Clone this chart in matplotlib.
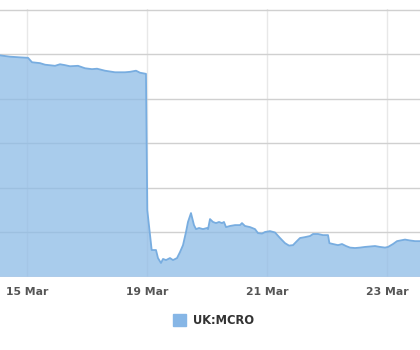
import matplotlib
matplotlib.use('Agg')
import matplotlib.pyplot as plt
from matplotlib.patches import Rectangle

# trading days shown on the axis (weekend skipped)
days = ['15 Mar', '16 Mar', '19 Mar', '20 Mar', '21 Mar', '22 Mar', '23 Mar']
tick_idx = [0, 2, 4, 6]

# time in trading days since 15 Mar open, price in pence
t = [-0.45, -0.283, -0.117, 0.017, 0.083, 0.217, 0.3, 0.467, 0.55, 0.633,
     0.717, 0.85, 0.967, 1.083, 1.167, 1.3, 1.467, 1.633, 1.717, 1.817,
     1.883, 1.983,
     2.005, 2.078, 2.15, 2.183, 2.233, 2.267, 2.317, 2.383, 2.433, 2.5,
     2.55, 2.6, 2.65, 2.683, 2.733, 2.783, 2.817, 2.867, 2.933, 3.0,
     3.017, 3.05, 3.1, 3.15, 3.2, 3.25, 3.283, 3.317, 3.383, 3.467,
     3.55, 3.583, 3.633, 3.717, 3.8, 3.85, 3.917, 3.967, 4.05, 4.133,
     4.217, 4.3, 4.367, 4.433, 4.483, 4.55, 4.633, 4.717, 4.767, 4.85,
     4.933, 5.017, 5.04, 5.1, 5.183, 5.25, 5.317, 5.383, 5.467, 5.55,
     5.633, 5.717, 5.8, 5.883, 5.967, 6.017, 6.1, 6.167, 6.3, 6.383,
     6.467, 6.55]
price = [1795, 1789, 1786, 1784, 1764, 1760, 1753, 1748, 1755, 1751,
         1746, 1748, 1737, 1733, 1735, 1726, 1719, 1719, 1721, 1726,
         1717, 1712,
         1100, 921, 921, 885, 863, 881, 876, 885, 876, 885,
         912, 943, 1002, 1047, 1087, 1033, 1015, 1020, 1015, 1020,
         1015, 1060, 1047, 1042, 1047, 1042, 1047, 1024, 1029, 1033,
         1033, 1042, 1029, 1024, 1015, 997, 995, 1002, 1006, 1000,
         975, 952, 941, 943, 957, 975, 979, 984, 993, 993,
         988, 988, 952, 948, 943, 948, 939, 932, 930, 932,
         935, 937, 939, 935, 932, 935, 948, 961, 968, 964,
         961, 961]

base = 800
fill_color = '#8dbbe6'
line_color = '#78ade0'

fig = plt.figure(figsize=(4.2, 3.5), dpi=100)
ax = fig.add_axes([0, 73 / 350, 1, 268 / 350])

ax.fill_between(t, price, base, color=fill_color, alpha=0.75, lw=0, zorder=2)
ax.plot(t, price, color=line_color, lw=1.3, zorder=3)

ax.set_xlim(-0.45, 6.55)
ax.set_ylim(base, 2003)
ax.set_yticks(range(800, 2001, 200))
ax.yaxis.grid(True, color='#d0d0d0', lw=1, zorder=0)
for i in tick_idx:
    ax.axvline(i, color='#e8e8e8', lw=1, zorder=0)
ax.axhline(base, color='#ccd6eb', lw=1, zorder=4)
ax.set_axisbelow(True)

ax.set_xticks(tick_idx)
ax.set_xticklabels([days[i] for i in tick_idx], fontsize=7.8,
                   color='#555555', fontweight='semibold')
ax.tick_params(axis='x', length=0, pad=7)
ax.tick_params(axis='y', left=False, labelleft=False)
for s in ax.spines.values():
    s.set_visible(False)

# legend
fig.patches.append(Rectangle((173 / 420, 1 - 326 / 350), 13 / 420, 12 / 350,
                             transform=fig.transFigure, color='#86b6e6'))
fig.text(193 / 420, 1 - 320.5 / 350, 'UK:MCRO', fontsize=8.3,
         fontweight='bold', color='#333333', va='center', ha='left')

fig.savefig('out.png', dpi=100)
